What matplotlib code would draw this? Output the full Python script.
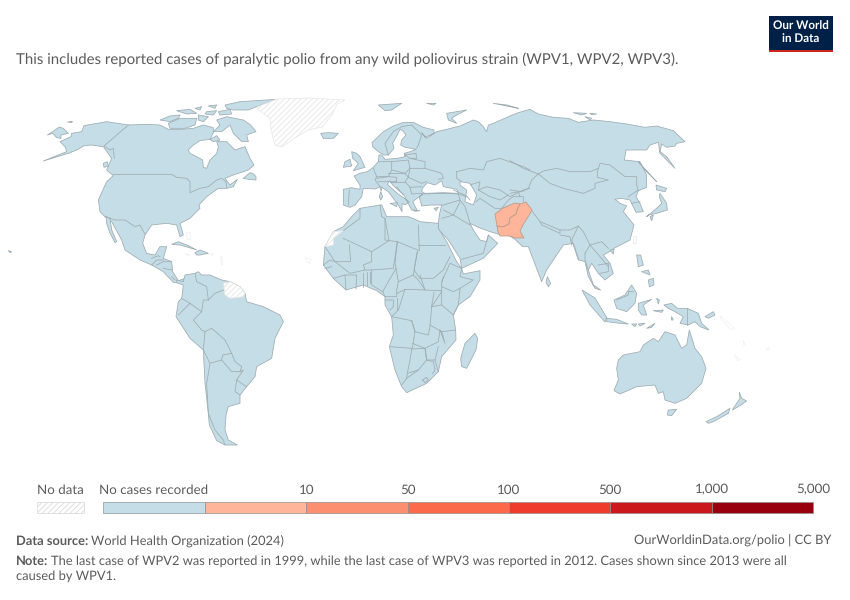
import matplotlib
matplotlib.use("Agg")
import matplotlib.pyplot as plt
from matplotlib.patches import Polygon, Rectangle

plt.rcParams['font.family'] = ['Lato', 'Liberation Sans', 'DejaVu Sans']
plt.rcParams['hatch.linewidth'] = 0.6
plt.rcParams['text.hinting'] = 'no_hinting'

# Legend bins and the countries with recorded cases
bin_labels = ['10', '50', '100', '500', '1,000', '5,000']
bin_edges = [10, 50, 100, 500, 1000, 5000]
bin_colors = ['#ffb59a', '#fc8f70', '#fb6a4a', '#ef3b2c', '#cb181d', '#99000d']
cases = {'Afghanistan': 6, 'Pakistan': 6}

LAND = '#c5dde7'
EDGE = '#9dabb1'
TEXT = '#5b5b5b'

# Each group has its own origin and is at 3x scale.
AMERICAS_N = (0, 90)
EUROPE = (310, 90)
ASIA = (510, 100)
AFRICA = (310, 200)
AMERICAS_S = (140, 270)
OCEANIA = (600, 280)

north_america = [(215,130),(245,125),(252,107),(320,95),(385,105),(440,103),(480,105),(505,118),(540,118),(580,115),(610,105),(640,113),(640,128),(630,148),(600,152),(580,165),(565,180),(570,190),(590,200),(608,210),(610,232),(620,235),(630,210),(650,190),(655,170),(650,155),(680,155),(705,180),(735,170),(750,205),(762,225),(745,240),(700,255),(675,265),(690,285),(712,268),(700,290),(680,295),(655,295),(620,320),(597,345),(600,355),(570,385),(540,400),(550,435),(540,440),(530,405),(500,400),(455,405),(435,435),(428,460),(440,490),(465,495),(480,470),(500,470),(490,505),(515,515),(518,545),(535,572),(555,565),(548,580),(520,577),(490,545),(455,525),(420,510),(375,480),(365,450),(335,395),(315,380),(300,365),(295,330),(320,275),(340,257),(320,240),(335,205),(310,170),(272,165),(250,168),(235,178),(205,190),(130,213),(200,185),(195,170),(180,155),(213,140)]
baja = [(318,380),(330,385),(335,420),(350,455),(345,458),(328,425),(320,400)]
arctic_islands = [
    [(480,90),(510,78),(540,75),(535,85),(510,95)],
    [(505,100),(540,85),(590,85),(585,105),(555,115),(510,115)],
    [(675,45),(720,35),(830,28),(770,50),(745,60),(700,60),(680,55)],
    [(650,90),(680,80),(730,90),(752,105),(768,125),(740,135),(745,155),(725,155),(700,130),(690,105),(665,125),(640,125),(660,105)],
    [(530,62),(570,58),(590,70),(560,72)],
    [(585,55),(605,50),(600,60)],
    [(625,48),(650,45),(645,55)],
    [(620,65),(650,62),(640,75),(615,72)],
    [(595,75),(625,80),(610,95),(595,90)],
    [(655,65),(690,58),(695,72),(660,75)],
    [(630,148),(650,137),(660,150),(640,155)],
    [(310,220),(322,215),(325,228),(312,232)],
    [(730,265),(750,248),(758,250),(768,260),(768,270),(745,268)],
    [(142,135),(158,125),(178,111),(190,115),(205,130),(183,135),(183,145),(170,143),(158,130)],
    [(515,463),(535,455),(565,467),(590,480),(565,472),(540,465)],
    [(585,488),(600,480),(625,490),(600,495),(590,495)],
    [(25,482),(35,485),(30,488)],
    [(203,96),(217,94),(215,98)],
]
na_borders = [
    [(315,380),(345,390),(375,390),(405,410),(420,405),(435,433)],
    [(455,505),(475,497),(480,500)],
    [(455,525),(470,510),(490,510)],
    [(470,525),(490,515),(515,515)],
    [(490,535),(515,540)],
    [(515,560),(525,570)],
    [(340,253),(515,253),(530,262),(560,265),(570,275),(570,308),(600,295),(625,290),(650,270),(665,265),(678,275),(680,293)],
    [(385,105),(312,168),(330,180),(340,175),(343,205)],
]
caribbean_faint = [
    [(558,428),(570,426),(572,450),(562,448)],
    [(555,492),(568,492),(566,497)],
    [(630,492),(640,491),(638,496)],
    [(662,500),(666,500),(668,525),(664,525)],
    [(915,503),(933,508),(930,520),(920,515)],
]

south_america = [(110,30),(130,35),(135,15),(165,10),(175,5),(185,15),(210,15),(245,30),(270,35),(300,50),(315,70),(320,95),(370,110),(420,135),(430,155),(405,205),(395,265),(350,290),(345,320),(320,350),(300,375),(300,400),(265,410),(258,435),(255,480),(265,510),(292,525),(255,525),(230,512),(208,465),(205,430),(195,340),(190,240),(150,205),(108,140),(115,95),(125,85),(130,45),(110,38)]
guianas = [(250,40),(270,35),(300,50),(315,70),(310,80),(270,85),(255,75)]
sa_borders = [
    [(165,10),(170,35),(200,50),(205,90),(190,90),(185,125),(160,150),(185,180),(195,185),(215,175),(255,210),(275,250)],
    [(125,85),(150,100),(115,135)],
    [(150,100),(185,125)],
    [(195,185),(190,240)],
    [(275,250),(248,255),(245,270),(210,280),(190,240)],
    [(275,250),(285,275),(305,290),(300,305),(275,305),(245,270)],
    [(210,280),(200,340),(205,430),(225,480),(250,510),(255,525)],
    [(300,305),(310,300),(290,330),(320,350)],
    [(290,330),(285,365),(300,375)],
    [(205,90),(225,70),(250,60)],
]

eurasia_west = [(100,298),(125,293),(150,298),(150,285),(132,258),(150,250),(172,245),(190,232),(205,215),(207,195),(215,195),(225,208),(262,205),(285,200),(283,190),(300,185),(318,178),(285,172),(272,165),(275,150),(288,135),(278,122),(270,118),(262,135),(248,160),(252,175),(235,195),(222,195),(205,185),(188,170),(186,158),(220,125),(250,108),(280,97),(310,97),(340,112),(372,120),(372,130),(345,142),(335,128),(350,145),(380,125),(410,118),(450,108),(490,90),(505,95),(520,110),(530,125),(535,105),(550,100),(600,78),(625,68),(660,58)]
eurasia_east = [(85,42),(130,52),(175,55),(205,67),(250,60),(300,65),(350,72),(405,82),(440,78),(490,92),(525,125),(500,130),(495,138),(470,142),(455,132),(450,155),(470,170),(495,205),(470,180),(450,160),(445,127),(420,135),(410,150),(348,150),(343,180),(390,185),(410,225),(410,262),(385,272),(378,290),(390,310),(400,335),(378,337),(360,300),(335,295),(315,298),(330,310),(350,318),(340,335),(372,375),(360,420),(312,445),(298,455),(280,465),(300,490),(310,520),(285,540),(265,520),(245,490),(235,510),(250,555),(272,570),(255,565),(235,530),(225,485),(207,480),(190,430),(160,435),(110,510),(95,545),(55,440),(38,440),(15,418)]
arabia = [(600,108),(575,105),(540,95),(505,82),(480,70),(490,90),(510,120),(530,125),(535,105),(563,130),(520,175),(455,205),(450,175),(415,120),(385,88),(385,70)]
eurasia_med = [(388,375),(395,345),(365,345),(335,348),(328,322),(338,312),(325,322),(308,335),(322,362),(305,360),(292,335),(282,315),(255,292),(238,273),(232,283),(262,310),(297,335),(285,345),(276,340),(276,365),(265,345),(235,305),(212,290),(195,297),(160,295),(155,320),(135,345),(120,352),(100,345)]
black_sea = [(337,295),(352,278),(375,285),(395,272),(400,290),(440,298),(445,310),(400,308),(345,310),(335,305)]
caspian = [(450,275),(480,280),(500,315),(490,345),(465,335),(470,300),(450,285)]
europe_islands = [
    [(125,185),(140,190),(150,200),(165,232),(130,242),(145,220),(128,205)],
    [(105,215),(120,208),(125,228),(100,232)],
    [(32,130),(55,128),(85,130),(70,145),(40,145)],
    [(205,45),(275,40),(245,60),(225,62)],
    [(350,40),(378,40),(370,45)],
    [(410,70),(470,60),(440,75),(425,85),(440,100),(415,90)],
    [(212,305),(218,320),(212,330),(208,320)],
    [(210,293),(216,293),(214,303)],
    [(240,340),(262,338),(260,350)],
    [(310,360),(330,362),(315,364)],
    [(372,355),(385,352),(378,362)],
    [(550,40),(590,45),(625,55),(600,50)],
]
europe_borders = [
    [(305,105),(335,135),(325,165),(320,175)],
    [(285,195),(318,190),(320,205),(300,205),(285,195)],
    [(300,205),(345,215),(345,235),(300,235)],
    [(345,235),(395,250),(400,265),(385,268)],
    [(245,215),(295,210),(300,235),(285,250),(245,240)],
    [(205,215),(245,215),(245,240),(235,260),(200,260)],
    [(190,235),(200,260),(195,270),(210,290)],
    [(118,300),(115,345)],
    [(300,235),(295,262),(285,250)],
    [(350,275),(335,280),(295,262),(285,275),(300,292),(335,290)],
    [(300,292),(305,312),(335,310)],
    [(240,275),(285,275)],
    [(260,290),(280,315)],
    [(200,265),(235,260),(260,262),(260,275),(205,275)],
    [(235,250),(285,250)],
    [(235,195),(225,160),(250,125),(275,110),(305,105)],
    [(338,312),(400,310),(445,312),(450,330),(400,345),(395,345)],
    [(450,335),(430,375),(400,360)],
    [(450,330),(465,350),(480,400)],
    [(395,385),(430,375),(480,405)],
    [(440,245),(480,235),(520,240),(530,215),(570,205),(640,230),(660,240)],
    [(440,245),(440,265),(455,275)],
    [(480,285),(510,275),(505,300),(530,290),(570,300),(600,320),(640,300),(660,295)],
    [(505,300),(540,320),(570,330),(595,315)],
    [(498,335),(510,325),(555,355),(575,355),(595,330),(610,320),(640,320),(640,335)],
    [(430,300),(470,318),(480,330)],
    [(445,312),(470,320)],
]
arabia_borders = [
    [(455,178),(520,160),(535,105)],
]
asia_islands = [
    [(438,255),(470,265),(465,275),(440,270)],
    [(450,280),(470,310),(472,330),(440,340),(415,345),(410,350),(440,325),(455,310),(448,290)],
    [(420,350),(430,345),(425,362)],
    [(385,185),(435,240),(440,245),(405,210)],
    [(300,450),(312,448),(310,462)],
    [(112,530),(122,550),(115,560),(108,548)],
    [(380,465),(392,465),(400,495),(385,500)],
    [(415,540),(430,535),(432,555),(418,560)],
    [(395,515),(415,510),(420,525)],
    [(190,38),(230,40),(215,45)],
    [(240,40),(260,42),(245,44)],
    [(225,50),(245,55),(240,60)],
]
asia_borders = [
    [(0,182),(40,205),(85,222),(120,250),(160,265),(220,280),(255,265),(255,250),(295,240),(262,232),(262,215),(270,190),(300,195),(345,230),(380,230),(380,255),(385,272)],
    [(85,222),(100,213),(140,205),(180,215),(240,215),(265,205)],
    [(0,270),(35,275),(55,265),(65,240),(85,222)],
    [(355,290),(385,270)],
    [(365,310),(390,305)],
    [(30,315),(60,325),(90,365),(150,390),(180,390),(205,378),(220,395),(240,435),(275,425),(295,445)],
    [(90,365),(95,375),(150,400),(150,390)],
    [(150,405),(180,410),(185,435)],
    [(205,378),(185,420),(205,480)],
    [(225,460),(240,435),(270,470),(295,500)],
    [(265,495),(295,490),(295,515),(270,520)],
    [(235,510),(225,480),(225,460)],
    [(0,280),(25,275),(30,290)],
]
# Taiwan has no data and is only just visible
taiwan = [(372,410),(380,410),(378,432),(370,430)]

africa = [(100,80),(125,50),(150,25),(210,15),(215,15),(230,50),(295,50),(320,60),(330,65),(385,70),(385,85),(410,125),(440,185),(455,205),(460,222),(510,212),(510,240),(480,290),(445,315),(430,345),(437,390),(438,420),(395,470),(385,515),(350,550),(290,578),(275,560),(255,510),(238,440),(250,405),(245,350),(225,315),(225,290),(200,272),(160,255),(108,270),(70,235),(40,195),(45,140),(70,95)]
western_sahara = [(45,140),(70,95),(100,92),(70,115),(70,135)]
madagascar = [(495,400),(503,415),(498,450),(470,505),(455,500),(452,475),(465,430)]
africa_borders = [
    [(150,25),(150,55),(100,92)],
    [(100,115),(185,155),(237,122),(225,55),(215,50),(210,15)],
    [(118,135),(122,185),(75,185),(45,140)],
    [(225,55),(225,120),(262,125),(328,152),(325,75)],
    [(325,135),(405,135)],
    [(185,155),(185,185),(160,195),(165,210),(185,210),(250,205),(262,125)],
    [(262,125),(255,190),(258,205),(265,245),(310,225),(322,155)],
    [(322,155),(312,210),(330,235),(370,235),(400,210),(420,170)],
    [(330,225),(345,270),(395,272),(395,250),(400,230)],
    [(185,210),(185,255),(218,275),(235,245),(258,205)],
    [(218,275),(225,290),(260,290),(260,270),(265,245)],
    [(262,280),(285,268),(345,270),(325,240),(310,225)],
    [(285,268),(265,330),(245,350),(305,362),(315,395),(355,405),(360,380),(365,320),(395,275)],
    [(395,245),(420,190),(455,205),(450,230),(490,240),(450,265),(430,275),(395,260)],
    [(395,272),(395,315),(430,345),(445,315),(450,265)],
    [(365,320),(395,315)],
    [(437,390),(395,395),(360,375)],
    [(305,362),(315,395),(307,445),(240,440)],
    [(307,430),(345,445),(385,425),(390,390)],
    [(390,390),(405,430),(395,395)],
    [(385,440),(375,480),(385,515)],
    [(345,445),(350,480),(375,480)],
    [(305,447),(345,445),(350,480),(325,510),(292,520),(300,480),(305,447)],
    [(292,520),(290,535),(275,555)],
    [(290,535),(325,510)],
    [(350,480),(370,485),(375,510),(368,520)],
    [(40,195),(60,180),(75,185),(120,220),(165,210)],
    [(70,235),(105,225),(108,270)],
    [(105,225),(140,225),(138,268)],
    [(160,220),(160,260)],
    [(170,215),(170,255)],
    [(180,215),(180,250)],
    [(45,205),(65,200)],
    [(262,295),(262,330)],
    [(225,300),(250,300),(250,320),(240,330)],
    [(372,278),(365,318)],
    [(338,540),(350,532),(355,540),(345,548),(338,540)],
]

sumatra = [(-54,30),(-15,54),(21,114),(15,126),(-30,75)]
oceania_islands = [
    [(42,60),(75,45),(95,15),(110,40),(105,70),(80,95),(50,85)],
    [(18,115),(50,118),(85,132),(60,130),(20,125)],
    [(115,70),(155,58),(130,75),(140,105),(125,105),(115,90)],
    [(140,145),(165,130),(155,142)],
    [(95,132),(110,132),(105,140)],
    [(115,132),(135,130),(120,138)],
    [(170,55),(178,60),(175,72)],
    [(160,92),(190,90),(185,97)],
    [(192,75),(215,70),(232,85),(262,85),(295,100),(305,130),(327,150),(300,140),(285,125),(265,135),(240,130),(250,110),(225,95),(205,85)],
    [(315,110),(340,95),(345,105),(325,115)],
    [(215,110),(220,120),(214,120)],
    [(55,240),(70,225),(120,215),(130,195),(160,175),(175,185),(195,155),(225,165),(245,205),(260,195),(268,150),(285,205),(305,230),(318,265),(305,310),(260,355),(225,370),(195,360),(190,335),(175,340),(165,315),(110,320),(60,342),(42,332),(55,300),(50,265)],
    [(205,390),(230,388),(215,407),(202,405)],
    [(318,425),(350,410),(390,385),(385,400),(340,425),(325,430)],
    [(418,337),(425,355),(440,363),(415,380),(397,390),(410,370),(420,355)],
]
oceania_borders = [
    [(50,60),(85,45),(85,35),(100,35)],
    [(262,85),(262,135)],
]
faint_islands = [
    [(360,108),(405,145),(395,150),(365,120)],
    [(430,180),(436,195),(432,197)],
    [(403,225),(420,240),(412,242)],
    [(498,208),(508,202),(505,210)],
]

# These two are in the map's own pixels, they sit across several of the groups above
greenland = [(257,107),(277,99),(310,98),(345,100),(337,104),(332,115),(322,127),(308,130),(295,138),(282,147),(275,145),(271,130),(270,118),(258,110)]
afghanistan = [(495,214),(503,208),(510,205),(515,203),(520,204),(518,208),(516,214),(510,218),(509,224),(503,227),(497,226),(496,220)]
pakistan = [(497,226),(503,227),(509,224),(510,218),(516,214),(518,208),(520,204),(526,202),(532,210),(528,217),(523,225),(520,231),(524,238),(515,238),(510,236),(500,236),(498,232)]


def crop(points, origin):
    return [(origin[0] + x / 3, origin[1] + y / 3) for x, y in points]


def bin_color(value):
    for edge, color in zip(bin_edges, bin_colors):
        if value < edge:
            return color
    return bin_colors[-1]


fig = plt.figure(figsize=(8.5, 6), dpi=100)
ax = fig.add_axes([0, 0, 1, 1])
ax.set_xlim(0, 850)
ax.set_ylim(600, 0)
ax.axis('off')


def land(points, color=LAND):
    ax.add_patch(Polygon(points, closed=True, facecolor=color, edgecolor=EDGE, linewidth=0.55, joinstyle='round'))


def no_data(points, color='#e6e6e6', hatch='//////'):
    ax.add_patch(Polygon(points, closed=True, facecolor='white', edgecolor=color, hatch=hatch, linewidth=0.5, zorder=3))


def borders(lines, origin):
    for line in lines:
        xs, ys = zip(*crop(line, origin))
        ax.plot(xs, ys, color=EDGE, linewidth=0.55, solid_joinstyle='round', zorder=2)


land(crop(north_america, AMERICAS_N))
land(crop(baja, AMERICAS_N))
for island in arctic_islands:
    land(crop(island, AMERICAS_N))
land(crop(south_america, AMERICAS_S))
land(crop(eurasia_west, EUROPE) + crop(eurasia_east, ASIA) + crop(arabia, AFRICA) + crop(eurasia_med, EUROPE))
for sea in (black_sea, caspian):
    ax.add_patch(Polygon(crop(sea, EUROPE), closed=True, facecolor='white', edgecolor=EDGE, linewidth=0.55, zorder=1.5))
for island in europe_islands:
    land(crop(island, EUROPE))
for island in asia_islands:
    land(crop(island, ASIA))
land(crop(africa, AFRICA))
land(crop(madagascar, AFRICA))
land(crop(sumatra, OCEANIA))
for island in oceania_islands:
    land(crop(island, OCEANIA))

borders(na_borders, AMERICAS_N)
borders(sa_borders, AMERICAS_S)
borders(europe_borders, EUROPE)
borders(asia_borders, ASIA)
borders(africa_borders, AFRICA)
borders(arabia_borders, AFRICA)
borders(oceania_borders, OCEANIA)

no_data(greenland)
no_data(crop(guianas, AMERICAS_S))
no_data(crop(western_sahara, AFRICA))
no_data(crop(taiwan, ASIA), hatch=None)
for island in faint_islands:
    no_data(crop(island, OCEANIA), color='#efefef', hatch=None)
for island in caribbean_faint:
    no_data(crop(island, AMERICAS_N), color='#efefef', hatch=None)

for name, outline in (('Afghanistan', afghanistan), ('Pakistan', pakistan)):
    ax.add_patch(Polygon(outline, closed=True, facecolor=bin_color(cases[name]), edgecolor='#b79a8c', linewidth=0.55, zorder=4))

# Subtitle
ax.text(16, 60, 'This includes reported cases of paralytic polio from any wild poliovirus strain (WPV1, WPV2, WPV3).',
        fontsize=10.8, color=TEXT, va='center', ha='left')

# Logo
ax.add_patch(Rectangle((769, 16), 64, 36, facecolor='#002147', edgecolor='none'))
ax.add_patch(Rectangle((769, 49.5), 64, 2.5, facecolor='#ce261e', edgecolor='none'))
ax.text(801, 26.5, 'Our World', color='white', fontsize=8.4, fontweight='bold', ha='center', va='center')
ax.text(801, 38.5, 'in Data', color='white', fontsize=8.4, fontweight='bold', ha='center', va='center')

# Legend
ax.add_patch(Rectangle((37, 501.5), 47, 11, facecolor='white', edgecolor='#dcdcdc', hatch='//////', linewidth=0.6))
ax.text(60, 490, 'No data', fontsize=9.6, color=TEXT, ha='center', va='center')
ax.text(154, 490, 'No cases recorded', fontsize=9.6, color=TEXT, ha='center', va='center')
seg_left = 103.5
seg_width = 101.36
ax.add_patch(Rectangle((seg_left, 501.5), seg_width, 11, facecolor=LAND, edgecolor='#9aa5aa', linewidth=0.6))
for i, (label, color) in enumerate(zip(bin_labels, bin_colors)):
    x = seg_left + seg_width * (i + 1)
    ax.add_patch(Rectangle((x, 501.5), seg_width, 11, facecolor=color, edgecolor='#8f8f8f', linewidth=0.5))
    # each label sits on the right end of its bin
    ax.text(x + seg_width, 490, label, fontsize=9.6, color=TEXT, ha='center', va='center')

# Footer
ax.text(16, 541, 'Data source:', fontsize=9.3, fontweight='bold', color=TEXT, ha='left', va='center')
ax.text(91.5, 541, 'World Health Organization (2024)', fontsize=9.3, color=TEXT, ha='left', va='center')
ax.text(831, 541, 'OurWorldinData.org/polio | CC BY', fontsize=9.3, color=TEXT, ha='right', va='center')
ax.text(16, 561, 'Note:', fontsize=9.3, fontweight='bold', color=TEXT, ha='left', va='center')
ax.text(51, 561, 'The last case of WPV2 was reported in 1999, while the last case of WPV3 was reported in 2012. Cases shown since 2013 were all',
        fontsize=9.3, color=TEXT, ha='left', va='center')
ax.text(16, 576, 'caused by WPV1.', fontsize=9.3, color=TEXT, ha='left', va='center')

fig.savefig('out.png', dpi=100)
